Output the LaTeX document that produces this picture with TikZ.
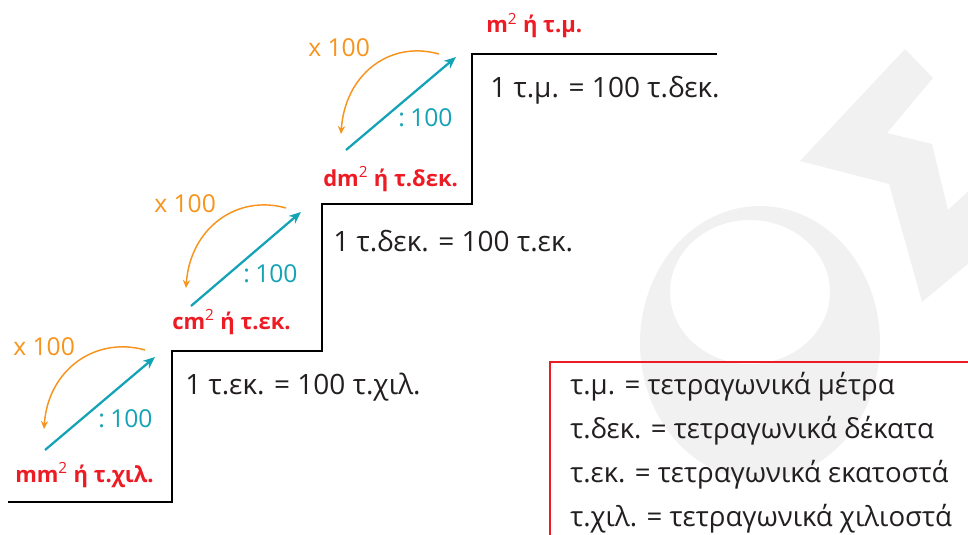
\documentclass[tikz,border=0pt]{standalone}
\usepackage{fontspec}
\setmainfont{Open Sans}
\usetikzlibrary{arrows.meta}
\definecolor{orng}{HTML}{F7941D}
\definecolor{tealc}{HTML}{14A3B6}
\definecolor{redl}{HTML}{ED1C24}
\definecolor{wmark}{HTML}{F1F1F1}
\definecolor{inkc}{HTML}{231F20}
\newcommand{\sq}{\textsuperscript{\mdseries 2}}
\begin{document}
\begin{tikzpicture}[x=0.75pt,y=-0.75pt,
  stair/.style={line width=2.1pt, line join=miter},
  eqtext/.style={anchor=base west, inner sep=0pt, text=inkc, font=\fontsize{21}{25}\selectfont},
  unitlbl/.style={anchor=base west, inner sep=0pt, text=redl, font=\bfseries\fontsize{16.5}{19}\selectfont},
  multlbl/.style={anchor=base west, inner sep=0pt, text=orng, font=\fontsize{18.5}{22}\selectfont},
  divlbl/.style={anchor=base west, inner sep=0pt, text=tealc, font=\fontsize{18.5}{22}\selectfont},
  uparrow/.style={draw=tealc, line width=1.7pt, -{Stealth[length=9pt,width=7.5pt]}},
  downarc/.style={draw=orng, line width=1.1pt, -{Stealth[length=6pt,width=5.5pt]}},
  legendtxt/.style={anchor=base west, inner sep=0pt, text=inkc, font=\fontsize{20.7}{25}\selectfont},
  legendbox/.style={draw=redl, line width=1.3pt}
]
\useasboundingbox (0,0) rectangle (968,535);
\clip (0,0) rectangle (968,535);
% watermark
\fill[wmark, even odd rule] (760,343) ellipse [x radius=120, y radius=137]
  (750,292) ellipse [x radius=80, y radius=72];
\fill[wmark] (905,49) -- (933,78) -- (887,133) -- (932,144) -- (948,210) -- (975,185)
  -- (975,258) -- (922,302) -- (889,184) -- (800,161) -- cycle;
% staircase
\coordinate (s0) at (8,502);
\coordinate (s1) at (172,502);
\coordinate (s2) at (172,351);
\coordinate (s3) at (322,351);
\coordinate (s4) at (322,204);
\coordinate (s5) at (472,204);
\coordinate (s6) at (472,54);
\coordinate (s7) at (717,54);
\draw[stair] (s0) -- (s1) -- (s2) -- (s3) -- (s4) -- (s5) -- (s6) -- (s7);
% equalities
\node[eqtext] (eq1) at (185,394) {1 τ.εκ. = 100 τ.χιλ.};
\node[eqtext] (eq2) at (333,251) {1 τ.δεκ. = 100 τ.εκ.};
\node[eqtext] (eq3) at (490,98) {1 τ.μ. = 100 τ.δεκ.};
% unit labels
\node[unitlbl] (u1) at (15,482) {mm\sq{} ή τ.χιλ.};
\node[unitlbl] (u2) at (172,329) {cm\sq{} ή τ.εκ.};
\node[unitlbl] (u3) at (323,186) {dm\sq{} ή τ.δεκ.};
\node[unitlbl] (u4) at (486,33) {m\sq{} ή τ.μ.};
% multiply labels
\node[multlbl] (m1) at (13,355) {x 100};
\node[multlbl] (m2) at (154,212) {x 100};
\node[multlbl] (m3) at (308,57) {x 100};
% divide labels
\node[divlbl] (d1) at (98,427) {:\hspace{0.22em}100};
\node[divlbl] (d2) at (243,282) {:\hspace{0.22em}100};
\node[divlbl] (d3) at (398,127) {:\hspace{0.22em}100};
% teal arrows
\coordinate (a1s) at (45,450);  \coordinate (a1e) at (155,357);
\coordinate (a2s) at (191,306); \coordinate (a2e) at (301,212);
\coordinate (a3s) at (346,150); \coordinate (a3e) at (456,57);
\draw[uparrow] (a1s) -- (a1e);
\draw[uparrow] (a2s) -- (a2e);
\draw[uparrow] (a3s) -- (a3e);
% orange arcs
\coordinate (b1s) at (145,350); \coordinate (b1e) at (44,429);
\coordinate (b2s) at (286,208); \coordinate (b2e) at (186,288);
\coordinate (b3s) at (439,54);  \coordinate (b3e) at (341,134);
\draw[downarc] (b1s) .. controls +(-50,-14) and +(4,-59) .. (b1e);
\draw[downarc] (b2s) .. controls +(-50,-14) and +(4,-59) .. (b2e);
\draw[downarc] (b3s) .. controls +(-50,-14) and +(4,-59) .. (b3e);
% legend
\coordinate (lb1) at (550,545);
\coordinate (lb2) at (550,362);
\coordinate (lb3) at (980,362);
\draw[legendbox] (lb1) -- (lb2) -- (lb3);
\node[legendtxt] (l1) at (570,394) {τ.μ. = τετραγωνικά μέτρα};
\node[legendtxt] (l2) at (570,438) {τ.δεκ. = τετραγωνικά δέκατα};
\node[legendtxt] (l3) at (570,482) {τ.εκ. = τετραγωνικά εκατοστά};
\node[legendtxt] (l4) at (570,526) {τ.χιλ. = τετραγωνικά χιλιοστά};
\end{tikzpicture}
\end{document}
